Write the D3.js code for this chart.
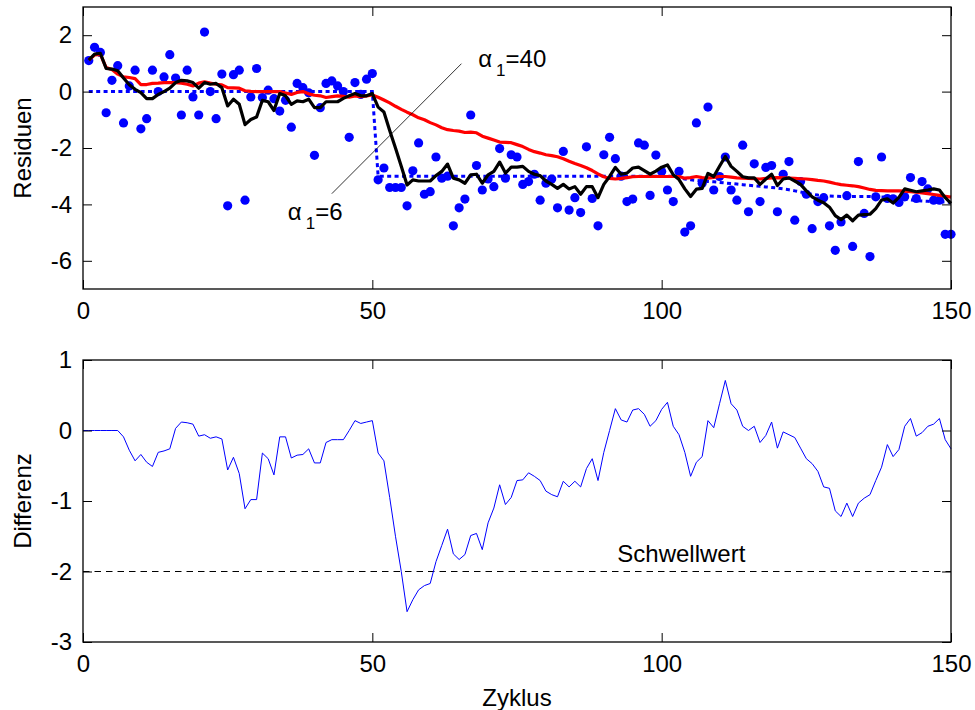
<!DOCTYPE html>
<html>
<head>
<meta charset="utf-8">
<script src="https://cdn.jsdelivr.net/npm/d3@7"></script>
<style>
html, body { margin: 0; padding: 0; background: #fff; }
svg { display: block; }
</style>
</head>
<body>
<div id="chart"></div>
<script>
// Residuals per cycle with two smoothings (alpha1 = 6 / 40) and their difference.

var xTicks = [0, 50, 100, 150];
var residTicks = [-6, -4, -2, 0, 2];
var diffTicks = [-3, -2, -1, 0, 1];
var threshold = -2;

// cycles 1..150
var residuals = [
    1.10, 1.57, 1.39, -0.75, 0.40, 0.92, -1.11, 0.20, 0.76, -1.32,
    -0.96, 0.76, 0.00, 0.52, 1.31, 0.48, -0.83, 0.76, -0.19, -0.83,
    2.11, 0.00, -0.96, 0.62, -4.05, 0.60, 0.76, -3.85, -0.19, 0.82,
    -0.21, 0.05, -0.25, -0.69, -0.31, -1.26, 0.29, 0.14, -0.04, -2.26,
    -0.57, 0.29, 0.38, 0.20, 0.00, -1.62, 0.32, -0.10, 0.44, 0.64,
    -3.13, -2.71, -3.40, -3.40, -3.40, -4.05, -2.81, -1.82, -3.64, -3.55,
    -2.32, -3.07, -3.00, -4.76, -4.12, -3.81, -0.83, -2.62, -3.49, -3.10,
    -3.37, -2.02, -3.07, -2.24, -2.32, -3.29, -3.19, -2.93, -3.85, -3.25,
    -3.10, -4.12, -2.12, -4.20, -3.76, -4.29, -1.96, -3.79, -4.76, -2.24,
    -1.62, -2.38, -3.00, -3.90, -3.81, -1.82, -1.90, -3.68, -2.25, -2.83,
    -3.49, -3.90, -2.83, -4.98, -4.76, -1.11, -3.25, -0.55, -3.49, -3.01,
    -2.32, -3.49, -3.85, -1.90, -4.26, -2.56, -3.90, -2.69, -2.62, -4.26,
    -2.93, -2.48, -4.56, -3.19, -3.64, -4.86, -3.90, -3.76, -4.76, -5.63,
    -4.62, -3.69, -5.49, -2.48, -4.32, -5.85, -3.73, -2.32, -3.79, -3.80,
    -3.93, -3.73, -3.05, -3.79, -3.19, -3.45, -3.85, -3.85, -5.06, -5.06
];

// blue dotted level, cycles 1..150
var trueLevel = [
    0, 0, 0, 0, 0, 0, 0, 0, 0, 0,
    0, 0, 0, 0, 0, 0, 0, 0, 0, 0,
    0, 0, 0, 0, 0, 0, 0, 0, 0, 0,
    0, 0, 0, 0, 0, 0, 0, 0, 0, 0,
    0, 0, 0, 0, 0, 0, 0, 0, 0, 0,
    -3.0, -3.0, -3.0, -3.0, -3.0, -3.0, -3.0, -3.0, -3.0, -3.0,
    -3.0, -3.0, -3.0, -3.0, -3.0, -3.0, -3.0, -3.0, -3.0, -3.0,
    -3.0, -3.0, -3.0, -3.0, -3.0, -3.0, -3.0, -3.0, -3.0, -3.0,
    -3.0, -3.0, -3.0, -3.0, -3.0, -3.0, -3.0, -3.0, -3.0, -3.0,
    -3.0, -3.0, -3.0, -3.0, -3.0, -3.0, -3.0, -3.0, -3.0, -3.0,
    -3.0, -3.0, -3.05, -3.10, -3.13, -3.15, -3.17, -3.19, -3.20, -3.22,
    -3.24, -3.26, -3.28, -3.30, -3.32, -3.34, -3.36, -3.38, -3.40, -3.42,
    -3.45, -3.48, -3.52, -3.56, -3.60, -3.64, -3.67, -3.69, -3.70, -3.71,
    -3.72, -3.72, -3.72, -3.72, -3.72, -3.72, -3.73, -3.74, -3.75, -3.78,
    -3.80, -3.82, -3.84, -3.86, -3.88, -3.89, -3.90, -3.91, -3.92, -3.93
];

// red, alpha1 = 40, cycles 1..150
var smooth40 = [
    1.12, 1.30, 1.32, 0.85, 0.78, 0.62, 0.52, 0.50, 0.46, 0.25,
    0.25, 0.29, 0.30, 0.32, 0.32, 0.32, 0.30, 0.26, 0.20, 0.30,
    0.35, 0.30, 0.26, 0.24, 0.14, 0.13, 0.12, 0.03, 0.01, 0.00,
    0.00, 0.00, 0.00, 0.00, -0.05, -0.10, -0.03, 0.00, -0.08, -0.13,
    -0.15, -0.21, -0.18, -0.15, -0.17, -0.20, -0.15, -0.18, -0.15, -0.12,
    -0.20, -0.30, -0.40, -0.52, -0.63, -0.73, -0.82, -0.93, -1.00, -1.10,
    -1.18, -1.28, -1.35, -1.38, -1.40, -1.45, -1.44, -1.46, -1.58, -1.65,
    -1.72, -1.79, -1.80, -1.81, -1.88, -1.95, -2.05, -2.13, -2.18, -2.24,
    -2.27, -2.31, -2.38, -2.47, -2.55, -2.62, -2.70, -2.80, -2.92, -3.02,
    -3.08, -3.10, -3.08, -3.05, -3.02, -3.01, -3.01, -3.01, -3.01, -3.01,
    -3.01, -3.01, -3.01, -3.07, -3.05, -3.01, -3.05, -3.07, -3.04, -3.01,
    -3.01, -3.03, -3.06, -3.07, -3.08, -3.09, -3.10, -3.08, -3.06, -3.05,
    -3.06, -3.07, -3.08, -3.09, -3.10, -3.12, -3.15, -3.17, -3.21, -3.26,
    -3.30, -3.32, -3.34, -3.37, -3.42, -3.47, -3.50, -3.51, -3.52, -3.52,
    -3.52, -3.53, -3.55, -3.57, -3.59, -3.62, -3.65, -3.68, -3.71, -3.74
];

// black, alpha1 = 6, cycles 1..150
var smooth6 = [
    1.12, 1.33, 1.36, 0.82, 0.80, 0.74, 0.48, 0.24, 0.08, -0.04,
    -0.25, -0.25, -0.10, 0.00, 0.12, 0.32, 0.40, 0.38, 0.32, 0.12,
    0.32, 0.26, 0.29, 0.14, -0.51, -0.27, -0.45, -1.17, -0.99, -0.90,
    -0.31, -0.36, -0.67, -0.07, -0.15, -0.45, -0.33, -0.36, -0.27, -0.57,
    -0.57, -0.36, -0.36, -0.36, -0.24, -0.15, -0.07, -0.15, -0.15, -0.07,
    -0.55, -0.72, -1.38, -2.00, -2.65, -3.31, -3.13, -3.17, -3.17, -3.17,
    -2.98, -2.83, -2.57, -3.07, -3.13, -3.25, -2.95, -2.93, -3.25, -2.95,
    -2.83, -2.50, -2.89, -2.68, -2.68, -2.65, -2.83, -2.93, -2.98, -3.17,
    -3.29, -3.43, -3.29, -3.45, -3.37, -3.64, -3.37, -3.37, -3.76, -3.29,
    -3.01, -2.69, -2.93, -2.89, -2.71, -2.68, -2.80, -2.93, -2.82, -2.68,
    -2.60, -2.95, -3.12, -3.45, -3.72, -3.46, -3.43, -2.90, -3.01, -2.65,
    -2.30, -2.65, -2.83, -3.02, -3.06, -3.06, -3.29, -3.10, -2.93, -3.33,
    -3.10, -3.06, -3.17, -3.29, -3.52, -3.73, -3.85, -3.94, -4.10, -4.40,
    -4.54, -4.38, -4.58, -4.38, -4.36, -4.35, -4.15, -3.85, -3.80, -3.95,
    -3.75, -3.45, -3.50, -3.55, -3.52, -3.49, -3.45, -3.49, -3.76, -3.96
];

// difference, cycles 0..150
var difference = [
    0, 0, 0, 0, 0, 0, 0, -0.09, -0.28, -0.43,
    -0.34, -0.45, -0.51, -0.31, -0.29, -0.26, 0.03, 0.12, 0.11, 0.09,
    -0.08, -0.06, -0.11, -0.09, -0.12, -0.56, -0.38, -0.61, -1.11, -0.98,
    -0.98, -0.32, -0.40, -0.63, -0.09, -0.09, -0.39, -0.35, -0.34, -0.26,
    -0.46, -0.46, -0.17, -0.13, -0.13, -0.13, 0.00, 0.14, 0.10, 0.12,
    0.14, -0.32, -0.43, -0.95, -1.50, -2.00, -2.57, -2.40, -2.26, -2.20,
    -2.17, -1.86, -1.63, -1.40, -1.75, -1.83, -1.76, -1.49, -1.46, -1.69,
    -1.31, -1.10, -0.77, -1.05, -0.95, -0.71, -0.70, -0.60, -0.65, -0.71,
    -0.86, -0.91, -0.94, -0.72, -0.80, -0.72, -0.80, -0.54, -0.40, -0.71,
    -0.31, 0.00, 0.31, 0.15, 0.12, 0.29, 0.31, 0.23, 0.06, 0.14,
    0.30, 0.40, 0.06, -0.06, -0.31, -0.65, -0.45, -0.37, 0.14, 0.04,
    0.38, 0.71, 0.38, 0.29, 0.06, 0.00, 0.06, -0.17, -0.07, 0.12,
    -0.25, -0.02, -0.06, -0.10, -0.25, -0.40, -0.47, -0.58, -0.80, -0.82,
    -1.14, -1.22, -1.03, -1.22, -1.03, -0.96, -0.91, -0.71, -0.52, -0.20,
    -0.37, -0.27, 0.06, 0.17, -0.08, -0.03, 0.06, 0.09, 0.17, -0.13,
    -0.26
];

var FONT = "'Liberation Sans', Arial, Helvetica, sans-serif";

function renderResidualCharts(containerId) {
    var totalW = 975, totalH = 710;
    var left = 83, right = 951;

    var container = d3.select("#" + containerId);
    container.selectAll("*").remove();

    var svg = container.append("svg")
        .attr("width", totalW)
        .attr("height", totalH)
        .attr("viewBox", "0 0 " + totalW + " " + totalH)
        .style("background", "#fff");

    var x = d3.scaleLinear().domain([0, 150]).range([left, right]);
    var yTop = d3.scaleLinear().domain([-7, 3]).range([289, 7]);
    var yBot = d3.scaleLinear().domain([-3, 1]).range([642, 360]);

    // cycles 1..150 for the upper panel, 0..150 for the lower one
    var cycleData = function(arr, start) {
        return arr.map(function(v, i) { return { c: i + start, v: v }; });
    };

    // ================= upper panel =================
    var top = svg.append("g").attr("class", "panel-top");

    top.append("g")
        .attr("class", "dots")
        .selectAll("circle")
        .data(cycleData(residuals, 1))
        .enter().append("circle")
            .attr("cx", function(d) { return x(d.c); })
            .attr("cy", function(d) { return yTop(d.v); })
            .attr("r", 4.6)
            .attr("fill", "#0000ff");

    var lineTop = d3.line()
        .x(function(d) { return x(d.c); })
        .y(function(d) { return yTop(d.v); });

    top.append("path")
        .datum(cycleData(trueLevel, 1))
        .attr("fill", "none")
        .attr("stroke", "#0000ff")
        .attr("stroke-width", 3)
        .attr("stroke-dasharray", "4,3.4")
        .attr("d", lineTop);

    top.append("path")
        .datum(cycleData(smooth40, 1))
        .attr("fill", "none")
        .attr("stroke", "#ff0000")
        .attr("stroke-width", 3.2)
        .attr("stroke-linejoin", "round")
        .attr("d", lineTop);

    top.append("path")
        .datum(cycleData(smooth6, 1))
        .attr("fill", "none")
        .attr("stroke", "#000")
        .attr("stroke-width", 3.2)
        .attr("stroke-linejoin", "round")
        .attr("d", lineTop);

    // --- annotation: one pointer line joining both labels ---
    top.append("line")
        .attr("x1", x(65.4)).attr("y1", yTop(0.99))
        .attr("x2", x(43.0)).attr("y2", yTop(-3.62))
        .attr("stroke", "#000")
        .attr("stroke-width", 0.8);

    alphaLabel(top, x(68.3), yTop(0.87), "40");
    alphaLabel(top, x(35.4), yTop(-4.54), "6");

    drawFrame(svg, x, yTop, residTicks, "Residuen");

    // ================= lower panel =================
    var bot = svg.append("g").attr("class", "panel-bottom");

    bot.append("line")
        .attr("x1", x(0)).attr("x2", x(150))
        .attr("y1", yBot(threshold)).attr("y2", yBot(threshold))
        .attr("stroke", "#000")
        .attr("stroke-width", 1)
        .attr("stroke-dasharray", "6.5,5");

    bot.append("text")
        .attr("x", x(103.4))
        .attr("y", yBot(-1.865))
        .attr("text-anchor", "middle")
        .style("font-family", FONT)
        .style("font-size", "24px")
        .text("Schwellwert");

    bot.append("path")
        .datum(cycleData(difference, 0))
        .attr("fill", "none")
        .attr("stroke", "#0000ff")
        .attr("stroke-width", 1)
        .attr("d", d3.line()
            .x(function(d) { return x(d.c); })
            .y(function(d) { return yBot(d.v); }));

    drawFrame(svg, x, yBot, diffTicks, "Differenz");

    svg.append("text")
        .attr("x", (left + right) / 2)
        .attr("y", 706)
        .attr("text-anchor", "middle")
        .style("font-family", FONT)
        .style("font-size", "24px")
        .text("Zyklus");
}

// alpha with subscript 1, e.g. "α1=40"
function alphaLabel(g, px, py, value) {
    var t = g.append("text")
        .attr("x", px)
        .attr("y", py)
        .style("font-family", FONT)
        .style("font-size", "24px");
    t.append("tspan").text("\u03b1");
    t.append("tspan")
        .attr("dx", 4)
        .attr("dy", 9)
        .style("font-size", "17px")
        .text("1");
    t.append("tspan")
        .attr("dy", -9)
        .text("=" + value);
}

// Matlab-style box with inward ticks on all four sides
function drawFrame(svg, x, y, yTicks, label) {
    var x0 = x.range()[0], x1 = x.range()[1];
    var yb = y.range()[0], yt = y.range()[1];
    var fmt = function(d) { return String(d); };

    var axes = svg.append("g").attr("class", "axes");

    axes.append("g")
        .attr("transform", "translate(0," + yb + ")")
        .call(d3.axisBottom(x).tickValues(xTicks).tickFormat(fmt)
            .tickSizeInner(-9).tickSizeOuter(0).tickPadding(13));

    axes.append("g")
        .attr("transform", "translate(0," + yt + ")")
        .call(d3.axisTop(x).tickValues(xTicks).tickFormat("")
            .tickSizeInner(-9).tickSizeOuter(0));

    axes.append("g")
        .attr("transform", "translate(" + x0 + ",0)")
        .call(d3.axisLeft(y).tickValues(yTicks).tickFormat(fmt)
            .tickSizeInner(-9).tickSizeOuter(0).tickPadding(11));

    axes.append("g")
        .attr("transform", "translate(" + x1 + ",0)")
        .call(d3.axisRight(y).tickValues(yTicks).tickFormat("")
            .tickSizeInner(-9).tickSizeOuter(0));

    axes.selectAll(".domain").remove();
    axes.selectAll(".tick line").attr("stroke", "#000").attr("stroke-width", 1);
    axes.selectAll(".tick text")
        .attr("fill", "#000")
        .style("font-family", FONT)
        .style("font-size", "24px");

    axes.append("rect")
        .attr("x", x0)
        .attr("y", yt)
        .attr("width", x1 - x0)
        .attr("height", yb - yt)
        .attr("fill", "none")
        .attr("stroke", "#000")
        .attr("stroke-width", 1.3);

    axes.append("text")
        .attr("transform", "translate(31," + ((yb + yt) / 2) + ") rotate(-90)")
        .attr("text-anchor", "middle")
        .style("font-family", FONT)
        .style("font-size", "24px")
        .text(label);
}

renderResidualCharts("chart");
</script>
</body>
</html>
